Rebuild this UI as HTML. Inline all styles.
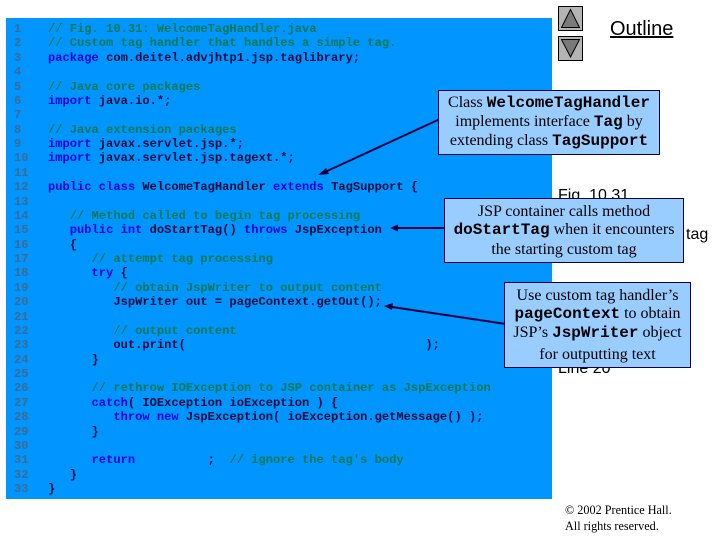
<!DOCTYPE html>
<html><head><meta charset="utf-8"><style>
html,body{margin:0;padding:0;background:#fff}
#p{position:relative;width:720px;height:540px;overflow:hidden;background:#fff}
#p>*{position:absolute}
#code{left:6px;top:18px;width:546px;height:481px;background:#0095ff}
pre{margin:0;font:bold 12.1px/14.375px "Liberation Mono",monospace;position:absolute;top:4px;color:#000a3c}
#n{left:8px;color:#3f6a90}
#c{left:42px}
.g{color:#007a50}.k{color:#0000e0}
.b{background:#99ccff;border:1px solid #000040;box-sizing:border-box}
.t{font:16px "Liberation Serif",serif;color:#000;text-align:center;white-space:nowrap;line-height:19px;height:19px}
.t b{font:bold 16px "Liberation Mono",monospace}
.a{font-family:"Liberation Sans",sans-serif;color:#000;white-space:nowrap}
</style></head><body><div id="p">
<div class="a" style="left:558px;top:187px;font-size:16px">Fig. 10.31</div>
<div class="a" style="left:686px;top:226px;font-size:16px">tag</div>
<div class="a" style="left:558px;top:360px;font-size:16px">Line 20</div>
<div id="code">
<pre id="n">1
2
3
4
5
6
7
8
9
10
11
12
13
14
15
16
17
18
19
20
21
22
23
24
25
26
27
28
29
30
31
32
33</pre>
<pre id="c"><span class="g">// Fig. 10.31: WelcomeTagHandler.java</span>
<span class="g">// Custom tag handler that handles a simple tag.</span>
<span class="k">package</span> com.deitel.advjhtp1.jsp.taglibrary;

<span class="g">// Java core packages</span>
<span class="k">import</span> java.io.*;

<span class="g">// Java extension packages</span>
<span class="k">import</span> javax.servlet.jsp.*;
<span class="k">import</span> javax.servlet.jsp.tagext.*;

<span class="k">public class</span> WelcomeTagHandler <span class="k">extends</span> TagSupport {

   <span class="g">// Method called to begin tag processing</span>
   <span class="k">public int</span> doStartTag() <span class="k">throws</span> JspException
   {
      <span class="g">// attempt tag processing</span>
      <span class="k">try</span> {
         <span class="g">// obtain JspWriter to output content</span>
         JspWriter out = pageContext.getOut();

         <span class="g">// output content</span>
         out.print(                                 );
      }

      <span class="g">// rethrow IOException to JSP container as JspException</span>
      <span class="k">catch</span>( IOException ioException ) {
         <span class="k">throw new</span> JspException( ioException.getMessage() );
      }

      <span class="k">return</span>          ;  <span class="g">// ignore the tag's body</span>
   }
}</pre>
</div>

<svg width="720" height="540" style="left:0;top:0">
<g stroke="#000" stroke-width="1">
<rect x="558.5" y="6.5" width="24" height="24" fill="#b4b4b4"/>
<rect x="558.5" y="36.5" width="24" height="24" fill="#b4b4b4"/>
<path d="M570.5 9.5L579.5 27.5H561.5Z" fill="#7a7a7a"/>
<path d="M561.5 39.5H579.5L570.5 57Z" fill="#7a7a7a"/>
</g>
<g stroke="#000040" stroke-width="2" fill="#000040">
<path d="M440 119L325 172" fill="none"/>
<path d="M446 228L397 228" fill="none"/>
<path d="M506 324L392 307" fill="none"/>
</g>
<g fill="#000040">
<path d="M318 175L326 168L329 174Z"/>
<path d="M390 228L398 224.500L398 231.500Z"/>
<path d="M384 306L393 303L392 310Z"/>
</g>
</svg>

<div class="a" style="left:610px;top:18px;font-size:20px;text-decoration:underline">Outline</div>

<div class="b" style="left:438px;top:90px;width:222px;height:65px"></div>
<div class="t" style="left:438px;width:222px;top:93px">Class <b>WelcomeTagHandler</b></div>
<div class="t" style="left:438px;width:222px;top:112px">implements interface <b>Tag</b> by</div>
<div class="t" style="left:438px;width:222px;top:131px">extending class <b>TagSupport</b></div>

<div class="b" style="left:444px;top:198px;width:240px;height:65px"></div>
<div class="t" style="left:444px;width:240px;top:202px">JSP container calls method</div>
<div class="t" style="left:444px;width:240px;top:220px"><b>doStartTag</b> when it encounters</div>
<div class="t" style="left:444px;width:240px;top:240px">the starting custom tag</div>

<div class="b" style="left:504px;top:282px;width:187px;height:86px"></div>
<div class="t" style="left:504px;width:187px;top:286px">Use custom tag handler’s</div>
<div class="t" style="left:504px;width:187px;top:304px"><b>pageContext</b> to obtain</div>
<div class="t" style="left:504px;width:187px;top:323px">JSP’s <b>JspWriter</b> object</div>
<div class="t" style="left:504px;width:187px;top:345px">for outputting text</div>

<div style="left:565px;top:502px;font:12.2px/16px 'Liberation Serif',serif;color:#000;white-space:nowrap">© 2002 Prentice Hall.<br>All rights reserved.</div>
</div></body></html>
